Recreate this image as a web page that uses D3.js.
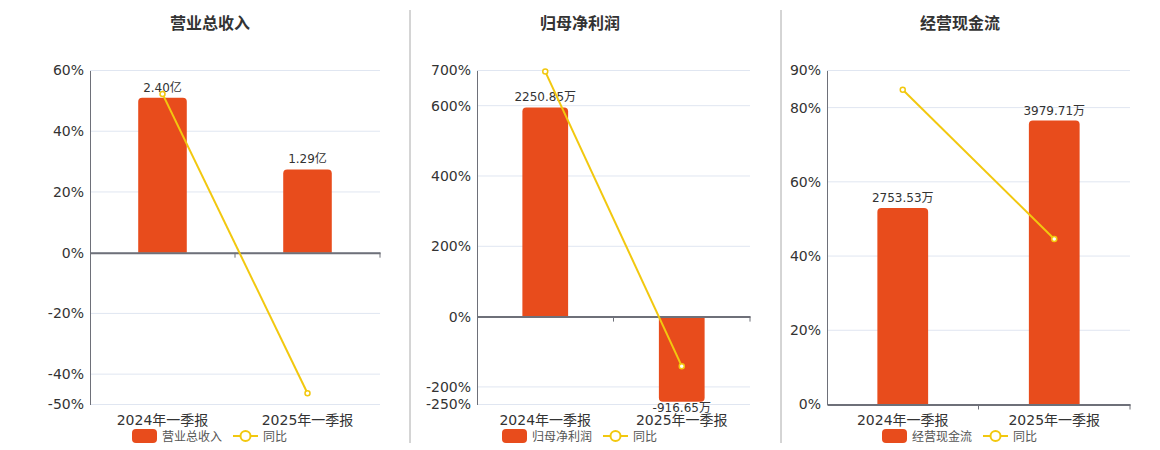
<!DOCTYPE html>
<html>
<head>
<meta charset="utf-8">
<script src="https://cdn.jsdelivr.net/npm/d3@7"></script>
<style>
  body { margin: 0; background: #fff; }
  svg text { font-family: "DejaVu Sans", "Noto Sans CJK SC", sans-serif; }
</style>
</head>
<body>
<div id="chart"></div>
<script>
const categories = ["2024年一季报", "2025年一季报"];
const titles = ["营业总收入", "归母净利润", "经营现金流"];

// bar values (亿 / 万) and their labels
const revenue = [2.40, 1.29];
const revenueLabels = ["2.40亿", "1.29亿"];
const netProfit = [2250.85, -916.65];
const netProfitLabels = ["2250.85万", "-916.65万"];
const cashFlow = [2753.53, 3979.71];
const cashFlowLabels = ["2753.53万", "3979.71万"];

// year-on-year %
const revenueYoy = [52.3, -46.3];
const netProfitYoy = [697, -141];
const cashFlowYoy = [84.8, 44.6];

// y tick labels
const revenueTicks = [60, 40, 20, 0, -20, -40, -50];
const netProfitTicks = [700, 600, 400, 200, 0, -200, -250];
const cashFlowTicks = [90, 80, 60, 40, 20, 0];

const width = 1160, height = 450;
const barColor = "#e84c1c";
const lineColor = "#f2c80f";

const svg = d3.select("#chart").append("svg")
  .attr("width", width)
  .attr("height", height);

const panels = [
  { title: titles[0], bars: revenue, labels: revenueLabels, yoy: revenueYoy, ticks: revenueTicks, left: 90, right: 380, center: 210 },
  { title: titles[1], bars: netProfit, labels: netProfitLabels, yoy: netProfitYoy, ticks: netProfitTicks, left: 477, right: 750, center: 580 },
  { title: titles[2], bars: cashFlow, labels: cashFlowLabels, yoy: cashFlowYoy, ticks: cashFlowTicks, left: 827, right: 1130, center: 960 }
];

// separators between the panels
[410, 781].forEach(x => {
  svg.append("line")
    .attr("x1", x).attr("x2", x)
    .attr("y1", 10).attr("y2", 443)
    .attr("stroke", "#aaa")
    .attr("stroke-width", 1);
});

function roundedBar(x, y0, y1, w, r) {
  // y0 = baseline, y1 = bar end
  const up = y1 < y0;
  const h = Math.abs(y0 - y1);
  r = Math.min(r, h);
  if (up) {
    return `M${x},${y0} L${x},${y1 + r} Q${x},${y1} ${x + r},${y1} L${x + w - r},${y1} Q${x + w},${y1} ${x + w},${y1 + r} L${x + w},${y0} Z`;
  }
  return `M${x},${y0} L${x},${y1 - r} Q${x},${y1} ${x + r},${y1} L${x + w - r},${y1} Q${x + w},${y1} ${x + w},${y1 - r} L${x + w},${y0} Z`;
}

panels.forEach(p => {
  const top = 70.5, bottom = 404.5;
  const g = svg.append("g");

  const y = d3.scaleLinear()
    .domain(d3.extent(p.ticks))
    .range([bottom, top]);
  const zeroY = y(0);

  // hidden bar axis: zero aligned with percent axis, largest bar at 85% of the top
  const barMax = d3.max(p.bars) / 0.85;
  const yBar = d3.scaleLinear()
    .domain([0, barMax])
    .range([zeroY, top]);

  const x = d3.scaleBand()
    .domain(categories)
    .range([p.left, p.right]);

  g.append("text")
    .attr("x", p.center)
    .attr("y", 29)
    .attr("text-anchor", "middle")
    .attr("font-size", 16)
    .attr("font-weight", "bold")
    .attr("fill", "#333")
    .text(p.title);

  // grid lines
  g.append("g")
    .selectAll("line")
    .data(p.ticks)
    .enter()
    .append("line")
    .attr("x1", p.left).attr("x2", p.right)
    .attr("y1", d => y(d)).attr("y2", d => y(d))
    .attr("stroke", "#e0e6f1");

  const yAxis = d3.axisLeft(y)
    .tickValues(p.ticks)
    .tickSize(0)
    .tickPadding(6)
    .tickFormat(d => d + "%");

  g.append("g")
    .attr("transform", `translate(${p.left},0)`)
    .call(yAxis)
    .call(a => a.select(".domain").attr("stroke", "#6e7079"))
    .call(a => a.selectAll("text").attr("font-size", 14).attr("fill", "#333")
      .style("font-family", "'DejaVu Sans', 'Noto Sans CJK SC', sans-serif"));

  // bars
  const bw = x.bandwidth() * 0.335;
  g.append("g")
    .selectAll("path")
    .data(p.bars)
    .enter()
    .append("path")
    .attr("d", (d, i) => roundedBar(x(categories[i]) + (x.bandwidth() - bw) / 2, zeroY, yBar(d), bw, 4))
    .attr("fill", barColor);

  g.append("g")
    .selectAll("text")
    .data(p.bars)
    .enter()
    .append("text")
    .attr("x", (d, i) => x(categories[i]) + x.bandwidth() / 2)
    .attr("y", d => d >= 0 ? yBar(d) - 6 : yBar(d) + 10)
    .attr("text-anchor", "middle")
    .attr("font-size", 12)
    .attr("fill", "#333")
    .text((d, i) => p.labels[i]);

  // x axis at zero
  const xAxis = d3.axisBottom(x).tickSize(0).tickFormat("");
  g.append("g")
    .attr("transform", `translate(0,${zeroY})`)
    .call(xAxis)
    .call(a => a.select(".domain").attr("stroke", "#6e7079").attr("stroke-width", 2));

  g.append("g")
    .selectAll("line")
    .data([categories[1], null])
    .enter()
    .append("line")
    .attr("x1", d => d ? x(d) : p.right)
    .attr("x2", d => d ? x(d) : p.right)
    .attr("y1", zeroY).attr("y2", zeroY + 5)
    .attr("stroke", "#6e7079");

  g.append("g")
    .selectAll("text")
    .data(categories)
    .enter()
    .append("text")
    .attr("x", d => x(d) + x.bandwidth() / 2)
    .attr("y", 425)
    .attr("text-anchor", "middle")
    .attr("font-size", 14)
    .attr("fill", "#333")
    .text(d => d);

  // yoy line
  const line = d3.line()
    .x((d, i) => x(categories[i]) + x.bandwidth() / 2)
    .y(d => y(d));

  g.append("path")
    .datum(p.yoy)
    .attr("d", line)
    .attr("fill", "none")
    .attr("stroke", lineColor)
    .attr("stroke-width", 2);

  g.append("g")
    .selectAll("circle")
    .data(p.yoy)
    .enter()
    .append("circle")
    .attr("cx", (d, i) => x(categories[i]) + x.bandwidth() / 2)
    .attr("cy", d => y(d))
    .attr("r", 2.5)
    .attr("fill", "#fff")
    .attr("stroke", lineColor)
    .attr("stroke-width", 1.5);

  // legend
  const barName = p.title;
  const lx = p.center - 78;
  const leg = g.append("g").attr("transform", `translate(${lx},429)`);
  leg.append("rect")
    .attr("x", 0).attr("y", 0)
    .attr("width", 25).attr("height", 14)
    .attr("rx", 4)
    .attr("fill", barColor);
  leg.append("text")
    .attr("x", 30).attr("y", 11.5)
    .attr("font-size", 12)
    .attr("fill", "#555")
    .text(barName);
  leg.append("line")
    .attr("x1", 101).attr("x2", 126)
    .attr("y1", 7).attr("y2", 7)
    .attr("stroke", lineColor)
    .attr("stroke-width", 2);
  leg.append("circle")
    .attr("cx", 113.5).attr("cy", 7)
    .attr("r", 5)
    .attr("fill", "#fff")
    .attr("stroke", lineColor)
    .attr("stroke-width", 2);
  leg.append("text")
    .attr("x", 131).attr("y", 11.5)
    .attr("font-size", 12)
    .attr("fill", "#555")
    .text("同比");
});
</script>
</body>
</html>
